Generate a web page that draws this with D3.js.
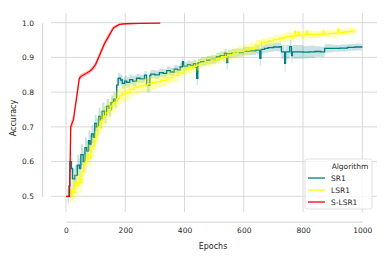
<!DOCTYPE html>
<html>
<head>
<meta charset="utf-8">
<script src="https://cdn.jsdelivr.net/npm/d3@7"></script>
<style>
body { margin: 0; background: #fff; }
svg { display: block; font-family: "DejaVu Sans", sans-serif; }
</style>
</head>
<body>
<div id="chart"></div>
<script>
// tick labels
var xTicks = [0, 200, 400, 600, 800, 1000];
var yTicks = [0.5, 0.6, 0.7, 0.8, 0.9, 1.0];
var algorithms = ["SR1", "LSR1", "S-LSR1"];
var colors = ["#008080", "#ffff00", "#ff0000"];

// SR1
var sr1Epoch = [5, 10, 13, 18, 22, 30, 38, 45, 50, 58, 64, 70, 76, 81, 86, 92, 97, 103, 110, 116, 122, 130, 137, 145, 152, 160, 166, 171, 176, 184, 190, 198, 205, 215, 225, 238, 250, 265, 272, 283, 286, 300, 315, 328, 340, 352, 365, 376, 385, 393, 396, 410, 420, 430, 438, 441, 445, 455, 475, 490, 508, 520, 535, 542, 546, 560, 575, 598, 620, 640, 654, 658, 670, 682, 700, 722, 727, 738, 741, 755, 761, 764, 780, 800, 820, 840, 860, 873, 900, 924, 950, 975, 998];
var sr1Mean = [0.50, 0.53, 0.60, 0.58, 0.55, 0.56, 0.59, 0.58, 0.62, 0.60, 0.64, 0.63, 0.66, 0.65, 0.68, 0.67, 0.71, 0.70, 0.73, 0.72, 0.745, 0.735, 0.76, 0.75, 0.77, 0.78, 0.775, 0.82, 0.84, 0.835, 0.825, 0.832, 0.828, 0.836, 0.832, 0.84, 0.838, 0.849, 0.82, 0.848, 0.852, 0.85, 0.856, 0.854, 0.862, 0.858, 0.866, 0.864, 0.873, 0.888, 0.875, 0.879, 0.877, 0.882, 0.872, 0.84, 0.884, 0.888, 0.892, 0.894, 0.902, 0.905, 0.912, 0.885, 0.91, 0.912, 0.914, 0.918, 0.919, 0.921, 0.897, 0.923, 0.926, 0.928, 0.93, 0.931, 0.916, 0.883, 0.916, 0.931, 0.905, 0.916, 0.916, 0.915, 0.916, 0.917, 0.916, 0.926, 0.926, 0.927, 0.929, 0.93, 0.932];
var sr1Err = [0.02, 0.03, 0.03, 0.03, 0.03, 0.03, 0.03, 0.03, 0.03, 0.03, 0.03, 0.03, 0.03, 0.025, 0.025, 0.025, 0.025, 0.025, 0.025, 0.025, 0.025, 0.025, 0.02, 0.02, 0.02, 0.02, 0.02, 0.02, 0.015, 0.015, 0.015, 0.015, 0.015, 0.015, 0.015, 0.012, 0.012, 0.012, 0.02, 0.012, 0.012, 0.012, 0.012, 0.012, 0.012, 0.012, 0.012, 0.012, 0.012, 0.015, 0.012, 0.012, 0.012, 0.012, 0.015, 0.02, 0.012, 0.012, 0.012, 0.012, 0.012, 0.012, 0.012, 0.02, 0.012, 0.012, 0.012, 0.012, 0.012, 0.012, 0.02, 0.012, 0.012, 0.012, 0.012, 0.012, 0.02, 0.025, 0.02, 0.02, 0.02, 0.02, 0.02, 0.018, 0.018, 0.015, 0.015, 0.012, 0.01, 0.01, 0.01, 0.01, 0.01];

// LSR1
var lsr1Epoch = [15, 20, 25, 30, 36, 42, 48, 54, 60, 66, 72, 78, 84, 90, 96, 102, 108, 114, 120, 126, 134, 142, 150, 160, 170, 180, 190, 200, 215, 230, 245, 260, 275, 290, 305, 320, 340, 360, 380, 396, 410, 425, 440, 452, 470, 490, 508, 525, 545, 564, 580, 600, 620, 640, 660, 682, 700, 720, 740, 755, 772, 775, 784, 787, 800, 812, 815, 830, 850, 868, 871, 890, 918, 921, 940, 960, 978];
var lsr1Mean = [0.50, 0.52, 0.51, 0.54, 0.53, 0.55, 0.54, 0.57, 0.59, 0.60, 0.62, 0.61, 0.64, 0.645, 0.66, 0.68, 0.70, 0.71, 0.72, 0.73, 0.74, 0.75, 0.76, 0.77, 0.78, 0.79, 0.795, 0.80, 0.808, 0.814, 0.818, 0.82, 0.824, 0.827, 0.83, 0.834, 0.842, 0.848, 0.855, 0.864, 0.868, 0.874, 0.878, 0.883, 0.888, 0.893, 0.897, 0.902, 0.907, 0.912, 0.917, 0.922, 0.927, 0.935, 0.944, 0.947, 0.952, 0.956, 0.96, 0.961, 0.975, 0.963, 0.973, 0.964, 0.965, 0.975, 0.966, 0.966, 0.967, 0.976, 0.968, 0.969, 0.982, 0.972, 0.974, 0.976, 0.977];
var lsr1Err = [0.02, 0.03, 0.03, 0.03, 0.03, 0.03, 0.03, 0.03, 0.03, 0.03, 0.03, 0.03, 0.03, 0.03, 0.03, 0.03, 0.03, 0.03, 0.03, 0.03, 0.03, 0.025, 0.025, 0.025, 0.025, 0.025, 0.025, 0.025, 0.02, 0.02, 0.02, 0.02, 0.02, 0.018, 0.018, 0.018, 0.018, 0.018, 0.015, 0.015, 0.015, 0.015, 0.015, 0.015, 0.015, 0.015, 0.015, 0.015, 0.015, 0.015, 0.015, 0.015, 0.015, 0.015, 0.012, 0.012, 0.012, 0.012, 0.012, 0.012, 0.012, 0.012, 0.012, 0.012, 0.012, 0.012, 0.012, 0.01, 0.01, 0.01, 0.01, 0.01, 0.01, 0.01, 0.01, 0.01, 0.01];

// S-LSR1
var slsr1Epoch = [0, 12, 14, 16, 20, 25, 30, 35, 40, 45, 50, 60, 70, 80, 90, 100, 110, 120, 130, 140, 150, 160, 170, 180, 200, 250, 318];
var slsr1Mean = [0.50, 0.50, 0.60, 0.70, 0.71, 0.72, 0.75, 0.78, 0.81, 0.84, 0.845, 0.85, 0.855, 0.86, 0.868, 0.88, 0.90, 0.92, 0.94, 0.955, 0.97, 0.985, 0.99, 0.995, 0.997, 0.998, 0.999];
var slsr1Err = [0, 0, 0.01, 0.015, 0.015, 0.015, 0.015, 0.015, 0.015, 0.01, 0.008, 0.006, 0.006, 0.006, 0.008, 0.01, 0.01, 0.01, 0.01, 0.01, 0.008, 0.006, 0.004, 0.003, 0.002, 0.001, 0.001];

var width = 390, height = 260;
var svg = d3.select("#chart").append("svg")
	.attr("width", width)
	.attr("height", height);

var x = d3.scaleLinear().domain([0, 1000]).range([66, 362.3]);
var y = d3.scaleLinear().domain([0.5, 1.0]).range([196.3, 22.7]);

var grid = svg.append("g").attr("stroke", "#d9d9d9").attr("stroke-width", 1);
grid.selectAll(".gx").data(xTicks).enter().append("line")
	.attr("x1", function (d) { return x(d); })
	.attr("x2", function (d) { return x(d); })
	.attr("y1", 13).attr("y2", 212);
grid.selectAll(".gy").data(yTicks).enter().append("line")
	.attr("x1", 51).attr("x2", 377)
	.attr("y1", function (d) { return y(d); })
	.attr("y2", function (d) { return y(d); });

// offset spines
var xAxis = svg.append("g").attr("transform", "translate(0,221.7)")
	.call(d3.axisBottom(x).tickValues(xTicks).tickSize(0).tickPadding(6).tickFormat(d3.format("d")));
var yAxis = svg.append("g").attr("transform", "translate(42,0)")
	.call(d3.axisLeft(y).tickValues(yTicks).tickSize(0).tickPadding(8).tickFormat(d3.format(".1f")));
[xAxis, yAxis].forEach(function (a) {
	a.select(".domain").attr("stroke", "#d9d9d9").attr("stroke-width", 1.3);
	a.selectAll("text").attr("fill", "#262626").style("font-size", "7.5px")
		.style("font-family", "DejaVu Sans");
});

svg.append("text").text("Epochs")
	.attr("x", 213).attr("y", 249)
	.attr("text-anchor", "middle")
	.style("font-size", "8px").attr("fill", "#262626");
svg.append("text").text("Accuracy")
	.attr("transform", "translate(16,118) rotate(-90)")
	.attr("text-anchor", "middle")
	.style("font-size", "8px").attr("fill", "#262626");

var series = [
	{ ep: sr1Epoch, m: sr1Mean, e: sr1Err, curve: d3.curveStepAfter },
	{ ep: lsr1Epoch, m: lsr1Mean, e: lsr1Err, curve: d3.curveStepAfter },
	{ ep: slsr1Epoch, m: slsr1Mean, e: slsr1Err, curve: d3.curveLinear }
];

var plot = svg.append("g");
series.forEach(function (s, i) {
	var pts = s.ep.map(function (d, k) { return { x: d, m: s.m[k], e: s.e[k] }; });
	var area = d3.area().curve(s.curve)
		.x(function (d) { return x(d.x); })
		.y0(function (d) { return y(d.m - d.e); })
		.y1(function (d) { return y(d.m + d.e); });
	var line = d3.line().curve(s.curve)
		.x(function (d) { return x(d.x); })
		.y(function (d) { return y(d.m); });
	plot.append("path").datum(pts)
		.attr("d", area)
		.attr("fill", colors[i])
		.attr("fill-opacity", i == 1 ? 0.3 : 0.22);
	plot.append("path").datum(pts)
		.attr("d", line)
		.attr("fill", "none")
		.attr("stroke", colors[i])
		.attr("stroke-width", 1.3);
});

// legend
var lg = svg.append("g").attr("transform", "translate(305,159)");
lg.append("rect")
	.attr("width", 67).attr("height", 50).attr("rx", 2)
	.attr("fill", "#fff").attr("fill-opacity", 0.8)
	.attr("stroke", "#d9d9d9").attr("stroke-width", 0.8);
lg.append("text").text("Algorithm")
	.attr("x", 45).attr("y", 10)
	.attr("text-anchor", "middle")
	.style("font-size", "7.5px").attr("fill", "#262626");
algorithms.forEach(function (a, i) {
	var yy = 19 + i * 12;
	lg.append("line")
		.attr("x1", 3).attr("x2", 20)
		.attr("y1", yy).attr("y2", yy)
		.attr("stroke", colors[i]).attr("stroke-width", 1.3);
	lg.append("text").text(a)
		.attr("x", 26).attr("y", yy + 2.7)
		.style("font-size", "7.5px").attr("fill", "#262626");
});
</script>
</body>
</html>
